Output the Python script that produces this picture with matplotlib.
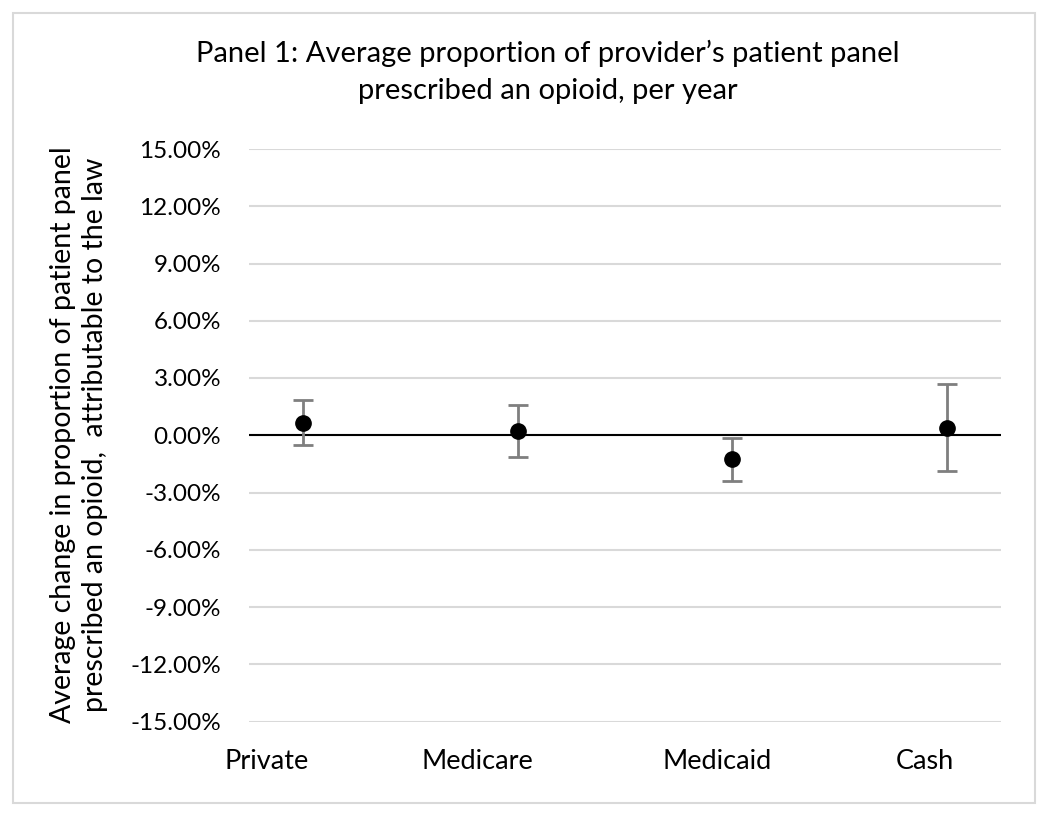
import matplotlib.pyplot as plt
from matplotlib.patches import Rectangle
from matplotlib.ticker import PercentFormatter

plt.rcParams["font.family"] = ["Lato", "DejaVu Sans"]
plt.rcParams["axes.unicode_minus"] = False

# payer groups and estimates (percentage points)
payers = ["Private", "Medicare", "Medicaid", "Cash"]
estimate = [0.65, 0.23, -1.27, 0.38]
ci_low = [-0.52, -1.12, -2.40, -1.85]
ci_high = [1.84, 1.57, -0.12, 2.69]
y_ticks = [-15, -12, -9, -6, -3, 0, 3, 6, 9, 12, 15]

title = "Panel 1: Average proportion of provider\u2019s patient panel\nprescribed an opioid, per year"
y_label = "Average change in proportion of patient panel\nprescribed an opioid,  attributable to the law"


def draw():
    fig = plt.figure(figsize=(10.5, 8.17), dpi=100)
    fig.patches.append(Rectangle((13 / 1050, 14 / 817), 1022 / 1050, 790 / 817,
                                 transform=fig.transFigure, fill=False,
                                 edgecolor="#d9d9d9", linewidth=1.5))
    ax = fig.add_axes([249 / 1050, 1 - 721.5 / 817, 752 / 1050, 572.5 / 817])

    xs = list(range(1, len(payers) + 1))
    lower = [e - l for e, l in zip(estimate, ci_low)]
    upper = [h - e for e, h in zip(estimate, ci_high)]
    ax.errorbar(xs, estimate, yerr=[lower, upper], fmt="none", ecolor="#7f7f7f",
                elinewidth=2, capsize=7, capthick=2, zorder=3)
    ax.plot(xs, estimate, "o", color="black", markersize=11, zorder=4)

    ax.axhline(0, color="black", linewidth=1.5, zorder=2)
    ax.set_ylim(-15, 15)
    ax.set_yticks(y_ticks)
    ax.yaxis.set_major_formatter(PercentFormatter(decimals=2))
    ax.grid(axis="y", color="#d9d9d9", linewidth=1.5)
    ax.set_axisbelow(True)
    ax.set_xlim(0.75, 4.25)
    ax.set_xticks([0.83, 1.815, 2.93, 3.895])
    ax.set_xticklabels(payers)
    ax.tick_params(axis="y", length=0, labelsize=17.5, pad=20)
    ax.tick_params(axis="x", length=0, labelsize=19.5, pad=20)
    for s in ax.spines.values():
        s.set_visible(False)

    fig.text(548 / 1050, 1 - 72 / 817, title, ha="center", va="center",
             fontsize=21, linespacing=1.55)
    fig.text(79 / 1050, 1 - 435 / 817, y_label, ha="center", va="center",
             rotation=90, fontsize=20.5, linespacing=1.3)

    fig.savefig("out.png", dpi=100)


if __name__ == "__main__":
    draw()
